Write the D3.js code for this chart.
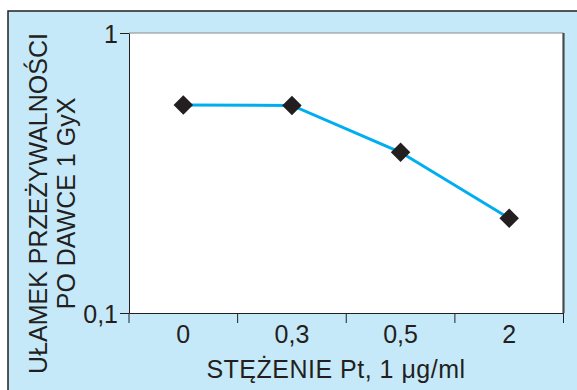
<!DOCTYPE html>
<html lang="en">
<head>
<meta charset="UTF-8">
<title>Ułamek przeżywalności</title>
<script src="https://d3js.org/d3.v7.min.js"></script>
<style>
  body { margin: 0; background: #fff; }
  text { font-family: "Liberation Sans", Arial, sans-serif; fill: #231f20; }
</style>
</head>
<body>
<div id="chart"></div>
<script>
  const width = 577;
  const height = 390;

  // data
  const categories = ["0", "0,3", "0,5", "2"];
  const survival = [0.553, 0.551, 0.375, 0.218];
  const yTicks = [0.1, 1];
  const yTickLabels = ["0,1", "1"];

  const plot = {left: 129, right: 563.5, top: 33, bottom: 313};

  const svg = d3.select("#chart")
    .append("svg")
    .attr("width", width)
    .attr("height", height);

  // light blue panel
  svg.append("rect")
    .attr("x", 8).attr("y", 11)
    .attr("width", width).attr("height", height)
    .attr("fill", "#c6e9f9")
    .attr("stroke", "#231f20")
    .attr("stroke-width", 1.5);

  const x = d3.scaleBand()
    .domain(categories)
    .range([plot.left, plot.right])
    .padding(0);

  const y = d3.scaleLog()
    .domain([0.1, 1])
    .range([plot.bottom, plot.top]);

  // white plot area
  svg.append("rect")
    .attr("x", plot.left).attr("y", plot.top)
    .attr("width", plot.right - plot.left)
    .attr("height", plot.bottom - plot.top)
    .attr("fill", "#fff");

  svg.append("line")
    .attr("x1", plot.left).attr("x2", plot.right)
    .attr("y1", plot.top).attr("y2", plot.top)
    .attr("stroke", "#8a8a8a").attr("stroke-width", 1);

  svg.append("line")
    .attr("x1", plot.right).attr("x2", plot.right)
    .attr("y1", plot.top).attr("y2", plot.bottom)
    .attr("stroke", "#4a4a4c").attr("stroke-width", 2.2);

  // y axis
  const yAxis = svg.append("g")
    .attr("transform", "translate(" + plot.left + ",0)")
    .call(d3.axisLeft(y)
      .tickValues(yTicks)
      .tickFormat((d, i) => yTickLabels[i])
      .tickSize(9)
      .tickSizeOuter(0)
      .tickPadding(2));
  yAxis.selectAll("path, line").attr("stroke", "#231f20");
  yAxis.selectAll("text")
    .style("font-size", "25px")
    .attr("dy", "0.36em");

  // x axis: labels in band centres, ticks on band edges
  const xAxis = svg.append("g")
    .attr("transform", "translate(0," + plot.bottom + ")")
    .call(d3.axisBottom(x).tickSize(0).tickSizeOuter(0).tickPadding(12));
  xAxis.select(".domain").attr("stroke", "#231f20");
  xAxis.selectAll("text")
    .style("font-size", "25px")
    .attr("dy", "0.71em");

  const edges = categories.map(c => x(c)).concat([plot.right]);
  xAxis.selectAll(".edge")
    .data(edges)
    .enter()
    .append("line")
    .attr("x1", d => d).attr("x2", d => d)
    .attr("y1", 0).attr("y2", 10)
    .attr("stroke", "#231f20");

  // series
  const line = d3.line()
    .x((d, i) => x(categories[i]) + x.bandwidth() / 2)
    .y(d => y(d));

  svg.append("path")
    .datum(survival)
    .attr("d", line)
    .attr("fill", "none")
    .attr("stroke", "#00aeef")
    .attr("stroke-width", 3);

  svg.selectAll(".pt")
    .data(survival)
    .enter()
    .append("path")
    .attr("d", d3.symbol().type(d3.symbolSquare).size(190))
    .attr("transform", (d, i) =>
      "translate(" + (x(categories[i]) + x.bandwidth() / 2) + "," + y(d) + ") rotate(45)")
    .attr("fill", "#231f20");

  // titles
  svg.append("text")
    .attr("x", 336).attr("y", 378)
    .attr("text-anchor", "middle")
    .style("font-size", "25px")
    .style("letter-spacing", "0.5px")
    .text("STĘŻENIE Pt, 1 μg/ml");

  svg.append("text")
    .attr("transform", "translate(47,203.5) rotate(-90)")
    .attr("text-anchor", "middle")
    .style("font-size", "25px")
    .text("UŁAMEK PRZEŻYWALNOŚCI");

  svg.append("text")
    .attr("transform", "translate(75,203.5) rotate(-90)")
    .attr("text-anchor", "middle")
    .style("font-size", "25px")
    .text("PO DAWCE 1 GyX");
</script>
</body>
</html>
